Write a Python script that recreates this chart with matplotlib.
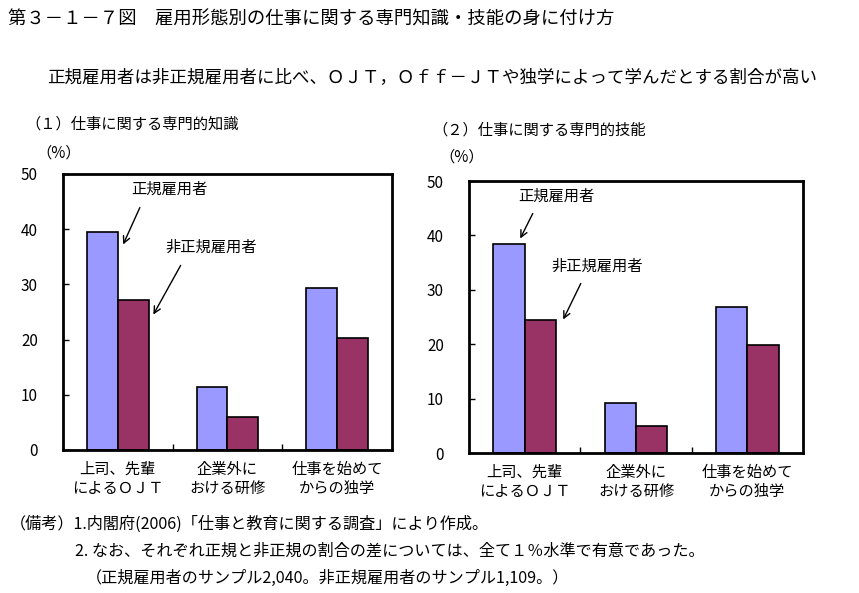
import matplotlib
matplotlib.use("Agg")
from matplotlib import pyplot as plt
import numpy as np

plt.rcParams['font.family'] = ['Noto Sans CJK JP', 'DejaVu Sans']

# data
categories = ["上司、先輩\nによるＯＪＴ", "企業外に\nおける研修", "仕事を始めて\nからの独学"]
knowledge_regular = [39.5, 11.4, 29.3]
knowledge_nonregular = [27.1, 5.9, 20.2]
skill_regular = [38.5, 9.1, 26.9]
skill_nonregular = [24.5, 4.9, 19.9]
yticks = [0, 10, 20, 30, 40, 50]

COL_REG = "#9999FF"
COL_NON = "#993366"

W, H = 859, 593
fig = plt.figure(figsize=(W / 100, H / 100), dpi=100)


def px(x, y):
    # pixel position (from top-left) -> figure fraction
    return x / W, 1 - y / H


def axes_box(left, top, right, bottom):
    return [left / W, 1 - bottom / H, (right - left) / W, (bottom - top) / H]


def draw_panel(rect, reg, non):
    ax = fig.add_axes(rect)
    x = np.arange(len(categories))
    bw = 0.28
    ax.bar(x - bw / 2, reg, bw, color=COL_REG, edgecolor="black", linewidth=1.2)
    ax.bar(x + bw / 2, non, bw, color=COL_NON, edgecolor="black", linewidth=1.2)
    ax.set_xlim(-0.5, len(categories) - 0.5)
    ax.set_ylim(0, 50)
    ax.set_yticks(yticks)
    ax.set_yticklabels([str(v) for v in yticks], fontsize=11)
    ax.tick_params(axis="y", direction="in", length=4, width=1, pad=18)
    ax.set_xticks([0.5, 1.5], minor=False)
    ax.set_xticklabels([])
    ax.tick_params(axis="x", direction="in", length=4, width=1)
    ax.set_xticks(x, minor=True)
    ax.set_xticklabels(categories, minor=True, fontsize=11, linespacing=1.15)
    ax.tick_params(axis="x", which="minor", length=0, pad=8)
    for s in ax.spines.values():
        s.set_linewidth(2)
    return ax


draw_panel(axes_box(63, 174, 392, 450), knowledge_regular, knowledge_nonregular)
draw_panel(axes_box(469, 181, 803, 453), skill_regular, skill_nonregular)

# titles
fig.text(*px(8, 20), "第３－１－７図　雇用形態別の仕事に関する専門知識・技能の身に付け方",
         fontsize=13.2, va="center", ha="left")
fig.text(*px(47, 77), "正規雇用者は非正規雇用者に比べ、ＯＪＴ，Ｏｆｆ－ＪＴや独学によって学んだとする割合が高い",
         fontsize=12.6, va="center", ha="left")
fig.text(*px(25, 124), "（１）仕事に関する専門的知識", fontsize=11, va="center")
fig.text(*px(36, 153), "（%）", fontsize=11, va="center")
fig.text(*px(432, 130), "（２）仕事に関する専門的技能", fontsize=11, va="center")
fig.text(*px(439, 157), "（%）", fontsize=11, va="center")

# annotations
for (tx, ty, label, x0, y0, x1, y1) in [
        (169, 189, "正規雇用者", 141, 205, 122, 247),
        (211, 247, "非正規雇用者", 182, 263, 152, 317),
        (556, 196, "正規雇用者", 534, 211, 519, 241),
        (597, 266, "非正規雇用者", 582, 281, 562, 322)]:
    fig.text(*px(tx, ty), label, fontsize=11, ha="center", va="center")
    fig.add_artist(matplotlib.patches.FancyArrowPatch(
        px(x0, y0), px(x1, y1), transform=fig.transFigure,
        arrowstyle="->", mutation_scale=12, color="black", lw=1))

# notes
fig.text(*px(10, 524), "（備考）1.内閣府(2006)「仕事と教育に関する調査」により作成。",
         fontsize=11.6, va="center")
fig.text(*px(75, 551), "2. なお、それぞれ正規と非正規の割合の差については、全て１％水準で有意であった。",
         fontsize=11.6, va="center")
fig.text(*px(86, 578), "（正規雇用者のサンプル2,040。非正規雇用者のサンプル1,109。）",
         fontsize=11.6, va="center")

fig.savefig("out.png", dpi=100)
